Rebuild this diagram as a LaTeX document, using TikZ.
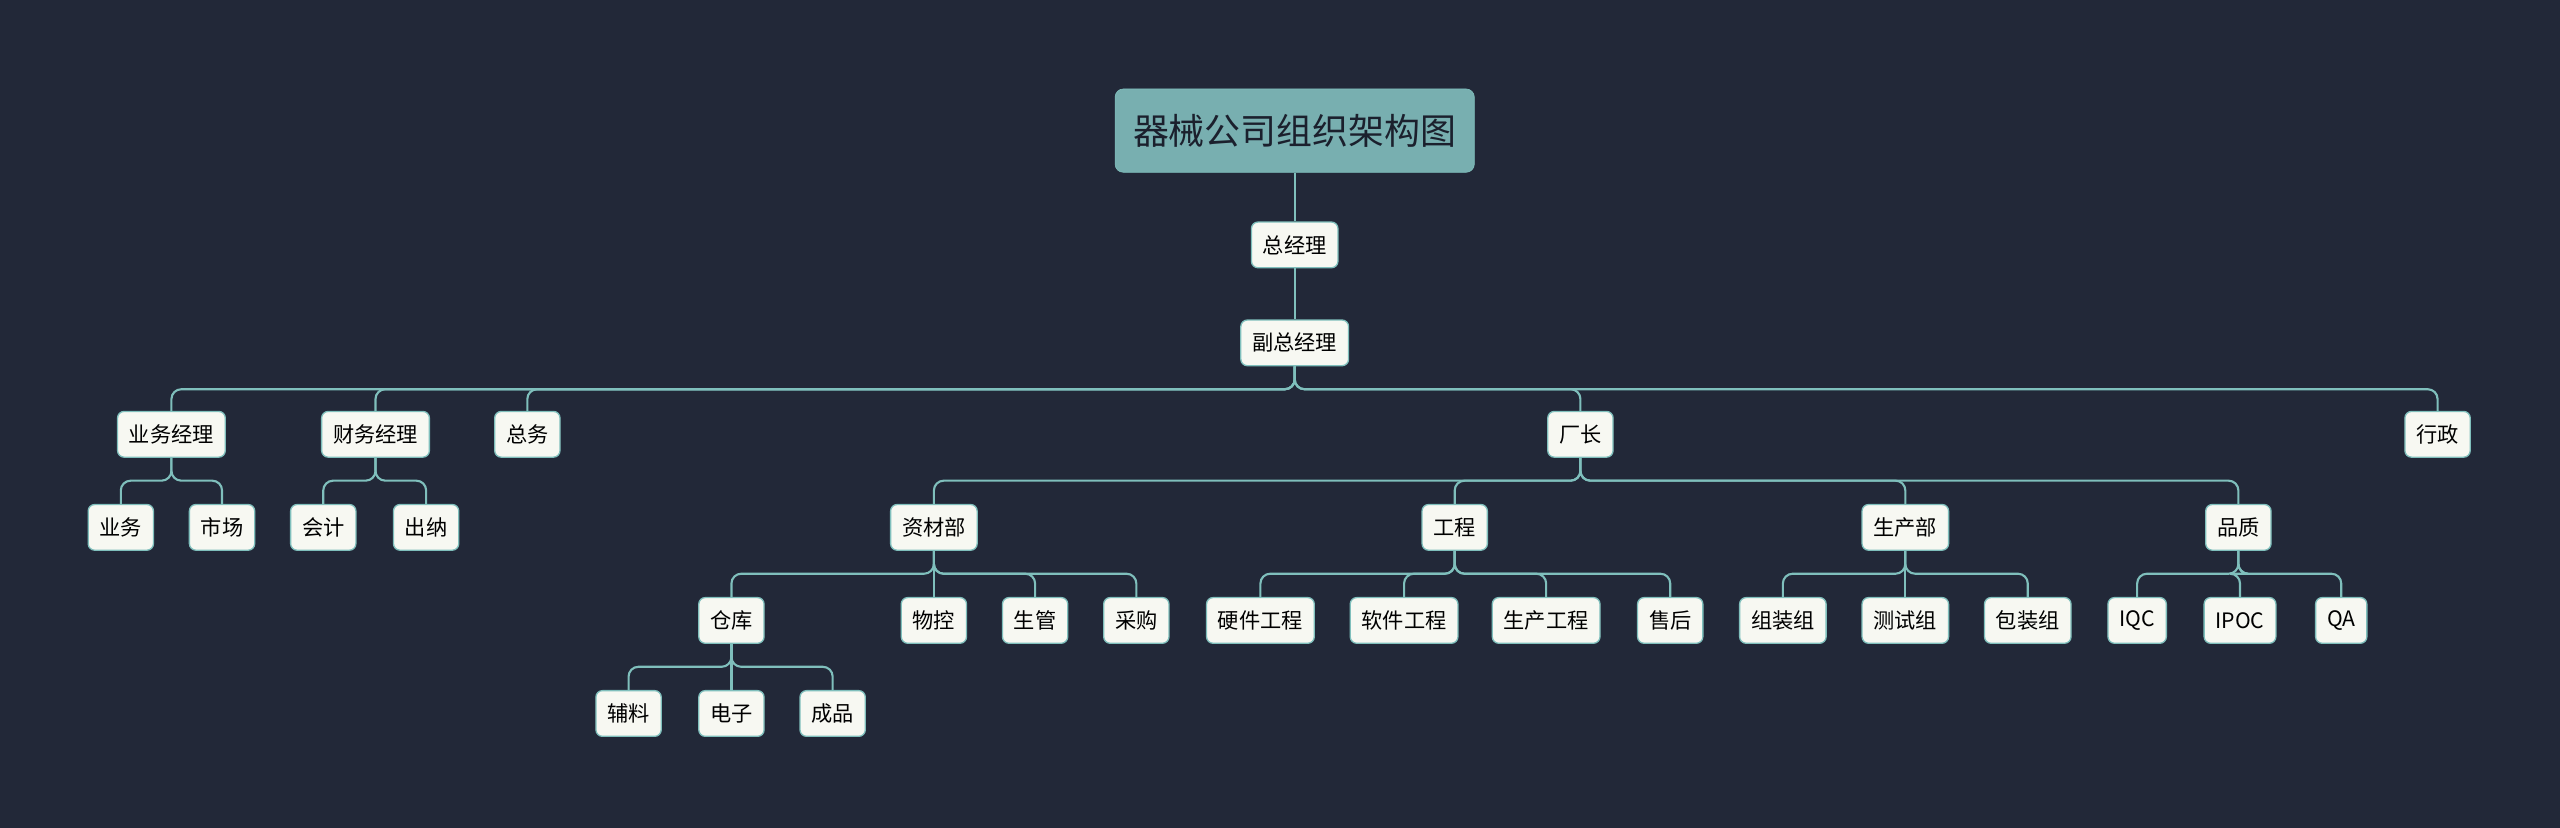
\documentclass[tikz,border=0pt]{standalone}
\usepackage{fontspec}
\setmainfont{Noto Sans CJK SC}
\definecolor{bg}{HTML}{222838}
\definecolor{ln}{HTML}{7FBFBC}
\definecolor{nf}{HTML}{F7F8F2}
\definecolor{rootf}{HTML}{78AFB0}
\begin{document}
\begin{tikzpicture}[x=1pt,y=-1pt,
  box/.style={draw=ln,fill=nf,rounded corners=4,line width=0.8,minimum height=28,inner xsep=7,font=\fontsize{13}{15}\selectfont,text=black},
  rootbox/.style={draw=ln,fill=rootf,rounded corners=5,minimum height=51,minimum width=220,font=\fontsize{22}{26}\selectfont,text=bg!80!black},
  conn/.style={draw=ln,line width=1.3,rounded corners=6}]
\fill[bg] (0,0) rectangle (1568,507);
\useasboundingbox (0,0) rectangle (1568,507);
\node[rootbox] (r) at (793,80) {器械公司组织架构图};
\node[box] (zjl) at (793,150) {总经理};
\node[box] (fz) at (793,210) {副总经理};
\node[box] (yw) at (105,266) {业务经理};
\node[box] (cw) at (230,266) {财务经理};
\node[box] (zw) at (323,266) {总务};
\node[box] (cz) at (968,266) {厂长};
\node[box] (xz) at (1493,266) {行政};
\node[box] (a1) at (74,323) {业务};
\node[box] (a2) at (136,323) {市场};
\node[box] (b1) at (198,323) {会计};
\node[box] (b2) at (261,323) {出纳};
\node[box] (zc) at (572,323) {资材部};
\node[box] (gc) at (891,323) {工程};
\node[box] (sc) at (1167,323) {生产部};
\node[box] (pz) at (1371,323) {品质};
\node[box] (ck) at (448,380) {仓库};
\node[box] (wk) at (572,380) {物控};
\node[box] (sg) at (634,380) {生管};
\node[box] (cg) at (696,380) {采购};
\node[box] (g1) at (772,380) {硬件工程};
\node[box] (g2) at (860,380) {软件工程};
\node[box] (g3) at (947,380) {生产工程};
\node[box] (g4) at (1023,380) {售后};
\node[box] (s1) at (1092,380) {组装组};
\node[box] (s2) at (1167,380) {测试组};
\node[box] (s3) at (1242,380) {包装组};
\node[box] (q1) at (1309,380) {IQC};
\node[box] (q2) at (1372,380) {IPOC};
\node[box] (q3) at (1434,380) {QA};
\node[box] (k1) at (385,437) {辅料};
\node[box] (k2) at (448,437) {电子};
\node[box] (k3) at (510,437) {成品};
\draw[conn] (r.south) -- (zjl.north);
\draw[conn] (zjl.south) -- (fz.north);
\foreach \p/\cs in {fz/{yw,cw,zw,cz,xz},yw/{a1,a2},cw/{b1,b2},cz/{zc,gc,sc,pz},zc/{ck,wk,sg,cg},gc/{g1,g2,g3,g4},sc/{s1,s2,s3},pz/{q1,q2,q3},ck/{k1,k2,k3}}{
  \foreach \c in \cs {\draw[conn] (\p.south) -- ++(0,14) -| (\c.north);}
}
\end{tikzpicture}
\end{document}
